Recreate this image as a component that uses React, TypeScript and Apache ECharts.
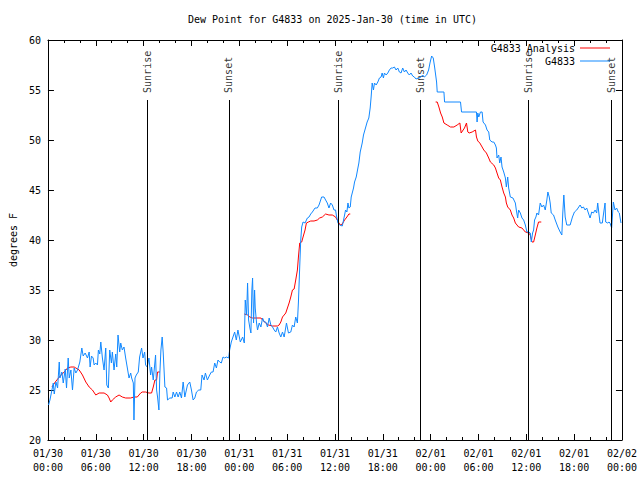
import React, { useEffect, useRef } from "react";
import * as echarts from "echarts";

const FONT = '"DejaVu Sans Mono", "Liberation Mono", monospace';

// Hours since 01/30 00:00 UTC
const obsHours = [
  0.08, 0.25, 0.5, 0.67, 0.79, 1.0, 1.21, 1.42, 1.5, 1.75, 1.92, 2.17, 2.33, 2.54, 2.67, 2.88, 3.08, 3.29, 3.5, 3.71,
  4.0, 4.25, 4.42, 4.67, 4.96, 5.17, 5.29, 5.46, 5.67, 5.79, 6.0, 6.21, 6.33, 6.5, 6.63, 6.83, 7.04, 7.25, 7.38, 7.58,
  7.75, 7.96, 8.08, 8.29, 8.5, 8.63, 8.79, 9.0, 9.13, 9.33, 9.54, 9.75, 9.96, 10.17, 10.38, 10.5, 10.71, 10.79, 10.92, 11.08,
  11.33, 11.5, 11.75, 11.92, 12.13, 12.25, 12.46, 12.67, 12.88, 13.0, 13.21, 13.5, 13.63, 13.75, 13.92, 14.04, 14.17, 14.33, 14.46, 14.67,
  14.88, 15.0, 15.29, 15.58, 15.71, 15.92, 16.13, 16.33, 16.54, 16.75, 16.96, 17.17, 17.5, 17.79, 18.0, 18.21, 18.42, 18.63, 18.92, 19.17,
  19.33, 19.58, 19.75, 20.0, 20.29, 20.5, 20.71, 20.92, 21.13, 21.33, 21.54, 21.75, 21.96, 22.17, 22.38, 22.67, 22.79, 23.0, 23.21, 23.42,
  23.63, 23.83, 24.13, 24.42, 24.63, 24.75, 24.92, 25.04, 25.17, 25.33, 25.46, 25.58, 25.67, 25.79, 25.92, 26.0, 26.17, 26.29, 26.5, 26.71,
  26.92, 27.13, 27.33, 27.54, 27.75, 27.96, 28.17, 28.38, 28.58, 28.79, 29.0, 29.21, 29.42, 29.63, 29.92, 30.17, 30.46, 30.67, 30.88, 31.08,
  31.29, 31.42, 31.58, 31.71, 31.83, 32.0, 32.25, 32.54, 32.75, 32.96, 33.17, 33.5, 33.79, 34.0, 34.21, 34.33, 34.63, 34.83, 35.04, 35.25,
  35.46, 35.67, 35.88, 36.08, 36.17, 36.38, 36.58, 36.92, 37.08, 37.21, 37.33, 37.5, 37.63, 37.75, 37.92, 38.04, 38.17, 38.33, 38.46, 38.67,
  38.88, 39.0, 39.17, 39.42, 39.58, 39.83, 40.04, 40.25, 40.42, 40.54, 40.67, 40.83, 40.96, 41.17, 41.38, 41.58, 41.79, 41.92, 42.08, 42.21,
  42.42, 42.63, 42.83, 43.04, 43.25, 43.46, 43.67, 43.88, 44.08, 44.29, 44.5, 44.71, 44.92, 45.13, 45.33, 45.54, 45.75, 45.96, 46.17, 46.5,
  46.79, 47.0, 47.21, 47.5, 47.75, 47.92, 48.13, 48.33, 48.5, 48.75, 48.83, 49.67, 49.75, 51.75, 51.88, 53.75, 53.83, 53.92, 54.04, 54.25,
  54.46, 54.58, 54.88, 55.08, 55.29, 55.42, 55.71, 55.92, 56.13, 56.25, 56.33, 56.54, 56.67, 56.83, 56.96, 57.17, 57.38, 57.5, 57.67, 57.79,
  58.0, 58.33, 58.63, 58.75, 58.92, 59.04, 59.25, 59.46, 59.67, 59.88, 60.08, 60.29, 60.5, 60.63, 60.79, 60.92, 61.04, 61.21, 61.33, 61.54,
  61.75, 61.96, 62.17, 62.38, 62.58, 62.71, 62.88, 63.0, 63.13, 63.42, 63.63, 63.96, 64.25, 64.46, 64.58, 64.71, 64.88, 65.08, 65.5, 65.79,
  66.04, 66.33, 66.75, 66.96, 67.17, 67.38, 67.58, 67.79, 68.0, 68.21, 68.42, 68.63, 68.83, 68.96, 69.13, 69.25, 69.54, 69.67, 69.88, 69.96,
  70.21, 70.38, 70.5, 70.71, 70.92, 71.13, 71.33, 71.54, 71.67, 71.88,
];

const obsDew = [
  23.5, 24.0, 25.0, 25.7, 24.6, 25.8, 25.2, 27.8, 26.2, 26.8, 25.7, 27.1, 25.2, 28.2, 26.2, 27.0, 25.0, 27.2, 26.7, 27.0,
  27.8, 29.2, 28.4, 28.7, 28.2, 28.8, 27.3, 28.4, 28.2, 27.5, 27.7, 27.5, 29.0, 28.6, 29.8, 28.2, 27.0, 29.2, 25.5, 25.2,
  29.0, 27.7, 28.8, 27.0, 28.6, 27.3, 30.5, 28.8, 29.7, 29.0, 29.3, 28.2, 27.2, 26.2, 26.7, 26.2, 25.7, 22.0, 26.2, 26.5,
  26.8, 28.3, 29.2, 28.2, 28.8, 27.5, 27.3, 28.2, 26.5, 27.3, 26.0, 28.5, 25.0, 24.3, 23.0, 26.7, 29.0, 30.3, 28.7, 25.3,
  25.2, 24.0, 24.2, 24.2, 24.8, 24.3, 24.8, 24.3, 24.8, 24.2, 25.8, 24.3, 25.5, 25.8, 25.0, 24.0, 24.2, 24.8, 25.0, 25.0,
  26.5, 26.0, 26.7, 26.0, 26.5, 26.8, 26.8, 27.7, 27.2, 28.0, 27.8, 27.7, 28.3, 28.2, 28.3, 28.2, 29.0, 29.8, 30.3, 30.8,
  30.0, 31.0, 29.8, 30.3, 29.7, 34.0, 32.5, 35.7, 32.0, 31.2, 30.7, 35.0, 36.2, 31.7, 35.0, 33.2, 31.7, 31.0, 31.7, 31.3,
  32.2, 31.8, 31.8, 31.3, 32.2, 31.5, 31.3, 31.0, 30.8, 31.3, 30.7, 30.3, 30.8, 30.3, 31.7, 30.7, 30.8, 31.5, 31.3, 32.3,
  31.7, 33.8, 37.3, 40.0, 41.3, 41.8, 41.7, 42.2, 42.3, 42.6, 42.8, 43.2, 43.2, 43.5, 44.0, 44.3, 44.3, 44.0, 43.7, 43.2,
  43.7, 43.5, 43.0, 43.0, 42.5, 41.7, 41.5, 41.4, 42.0, 42.5, 43.0, 42.8, 43.7, 43.2, 43.3, 44.3, 44.7, 45.2, 45.8, 46.3,
  47.2, 47.7, 48.8, 49.7, 50.5, 51.2, 51.8, 52.2, 53.2, 54.3, 55.7, 55.0, 55.7, 55.5, 55.8, 56.2, 56.3, 56.7, 56.2, 56.7,
  56.5, 56.7, 57.0, 57.2, 57.2, 57.3, 57.0, 57.2, 56.8, 56.7, 57.2, 56.8, 57.0, 56.7, 56.5, 56.7, 56.4, 56.3, 56.1, 56.2,
  56.3, 56.5, 56.3, 56.5, 57.0, 57.7, 58.4, 58.2, 57.3, 55.8, 54.8, 54.8, 53.8, 53.8, 52.8, 52.8, 51.8, 52.7, 52.3, 52.8,
  52.8, 51.8, 51.5, 51.0, 50.8, 50.0, 49.8, 49.8, 49.5, 49.2, 48.2, 48.5, 47.7, 48.3, 47.3, 46.8, 46.2, 45.3, 46.3, 45.2,
  44.3, 44.2, 43.7, 43.0, 42.2, 43.0, 42.7, 42.2, 42.0, 41.5, 40.8, 40.8, 40.7, 39.8, 40.7, 41.0, 42.0, 42.3, 42.7, 42.5,
  43.7, 43.3, 43.5, 43.0, 44.0, 44.8, 44.3, 43.7, 42.7, 42.5, 42.0, 41.3, 40.8, 40.5, 42.7, 44.5, 42.3, 41.5, 41.5, 42.3,
  42.8, 43.0, 43.5, 43.2, 43.3, 43.0, 43.2, 42.7, 42.2, 42.8, 42.7, 43.0, 42.7, 43.7, 42.5, 41.7, 41.7, 42.5, 43.7, 41.8,
  41.7, 41.8, 41.7, 41.2, 43.8, 43.0, 43.2, 42.8, 42.7, 41.7,
];

// Analysis (null = no analysis available)
const anaHours = [
  0.5, 0.92, 1.42, 2.04, 2.46, 2.88, 3.29, 3.5, 3.92, 4.33, 4.75, 5.17, 5.58, 6.0, 6.42, 7.04, 7.46, 7.67, 7.88, 8.08,
  8.5, 8.92, 9.33, 9.75, 10.38, 10.79, 11.21, 11.63, 11.83, 12.25, 12.67, 13.0, 13.21, 13.42, 13.63, 13.75, 14.04, 14.5,
  24.63, 25.04, 25.33, 25.67, 26.08, 26.71, 26.92, 27.33, 27.67, 28.17, 28.79, 29.0, 29.21, 29.42, 29.63, 29.83, 30.04, 30.25, 30.46, 30.67,
  30.88, 31.08, 31.29, 31.42, 31.58, 31.83, 32.0, 32.25, 32.42, 32.67, 32.96, 33.38, 33.79, 34.08, 34.42, 34.83, 35.25, 35.67, 35.88, 36.08,
  36.29, 36.5, 36.67, 36.92, 37.21, 37.5, 37.75, 37.92, 40.0,
  48.63, 48.83, 49.04, 49.25, 49.46, 49.67, 50.08, 50.5, 50.92, 51.33, 51.67, 51.83, 52.08, 52.25, 52.5, 52.67, 52.83, 53.21, 53.63, 53.75,
  53.92, 54.17, 54.46, 54.67, 55.0, 55.29, 55.5, 55.92, 56.13, 56.33, 56.54, 56.75, 56.96, 57.17, 57.38, 57.5, 57.67, 58.0, 58.21, 58.42,
  58.63, 59.04, 59.46, 59.88, 60.29, 60.5, 60.71, 60.92, 61.13, 61.33, 61.54, 61.88,
];

const anaDew = [
  25.3, 25.8, 26.3, 26.8, 27.2, 27.3, 27.3, 27.2, 27.0, 26.5, 25.8, 25.3, 25.0, 24.5, 24.7, 24.7, 24.5, 24.2, 23.8, 24.0,
  24.3, 24.5, 24.3, 24.2, 24.2, 24.3, 24.3, 24.7, 24.8, 24.8, 24.7, 24.7, 25.3, 26.0, 26.0, 26.8, 26.8, null,
  32.6, 32.5, 32.3, 32.2, 32.2, 32.2, 32.0, 31.7, 31.5, 31.4, 31.4, 31.5, 31.8, 32.3, 32.5, 32.7, 33.2, 33.7, 34.3, 35.0,
  35.1, 36.0, 37.0, 38.3, 39.7, 39.8, 40.3, 41.0, 41.7, 41.8, 41.9, 41.9, 42.0, 42.2, 42.3, 42.6, 42.5, 42.5, 42.4, 42.3,
  42.0, 41.7, 41.5, 41.6, 42.0, 42.3, 42.6, 42.6, null,
  53.8, 53.8, 53.3, 52.7, 52.3, 51.7, 51.5, 51.3, 51.3, 51.5, 51.7, 50.7, 51.0, 51.2, 51.7, 50.8, 50.7, 50.8, 51.0, 50.3,
  49.9, 49.7, 49.3, 49.0, 48.7, 48.2, 47.8, 47.5, 47.2, 46.7, 46.2, 46.0, 45.3, 44.7, 44.3, 43.7, 43.3, 43.0, 42.5, 42.2,
  41.7, 41.3, 41.2, 40.8, 40.7, 40.5, 39.8, 39.8, 40.5, 41.2, 41.8, 41.8,
];

const sunHours = [12.44, 22.69, 36.46, 46.69, 60.3, 70.69];
const sunNames = ["Sunrise", "Sunset", "Sunrise", "Sunset", "Sunrise", "Sunset"];
const sunLineTop = 54;

const tickDates = ["01/30", "01/30", "01/30", "01/30", "01/31", "01/31", "01/31", "01/31", "02/01", "02/01", "02/01", "02/01", "02/02"];
const tickTimes = ["00:00", "06:00", "12:00", "18:00", "00:00", "06:00", "12:00", "18:00", "00:00", "06:00", "12:00", "18:00", "00:00"];

const TITLE = "Dew Point for G4833 on 2025-Jan-30 (time in UTC)";
const BLUE = "#1188ff";
const RED = "#ff0000";

export default function App() {
  const ref = useRef<HTMLDivElement>(null);

  useEffect(() => {
    document.body.style.margin = "0";
    const chart = echarts.init(ref.current as HTMLDivElement, null, { renderer: "svg" });

    const obsData = obsHours.map((h, i) => [h, obsDew[i]]);
    const anaData = anaHours.map((h, i) => [h, anaDew[i] === null ? "-" : anaDew[i]]);
    const sunData = sunHours.map((h, i) => ({ name: sunNames[i], value: [h, sunLineTop] }));

    const txt = { fontFamily: FONT, fontSize: 10, color: "#000" };
    const line = { lineStyle: { color: "#000", width: 1 } };

    const xCommon = {
      type: "value",
      min: 0,
      max: 72,
      interval: 6,
      axisLine: { show: true, onZero: false, ...line },
      axisTick: { show: true, inside: true, length: 6, ...line },
      minorTick: { show: true, splitNumber: 3, length: 3, ...line },
      splitLine: { show: false },
      minorSplitLine: { show: false },
    };
    const yCommon = {
      type: "value",
      min: 20,
      max: 60,
      interval: 5,
      axisLine: { show: true, onZero: false, ...line },
      axisTick: { show: true, inside: true, length: 6, ...line },
      splitLine: { show: false },
    };

    const legendCommon = {
      orient: "horizontal",
      align: "right",
      right: 30,
      padding: 0,
      icon: "rect",
      itemWidth: 30,
      itemHeight: 1,
      selectedMode: false,
      textStyle: { ...txt },
    };

    chart.setOption({
      animation: false,
      backgroundColor: "#fff",
      textStyle: { fontFamily: FONT },
      title: {
        text: TITLE,
        left: 188,
        top: 14,
        padding: 0,
        textStyle: { ...txt, fontWeight: "normal" },
      },
      legend: [
        { ...legendCommon, top: 43, data: ["G4833 Analysis"] },
        { ...legendCommon, top: 56, data: ["G4833"] },
      ],
      grid: { left: 46, right: 18, top: 40, bottom: 40, containLabel: false },
      xAxis: [
        {
          ...xCommon,
          position: "bottom",
          axisLabel: {
            ...txt,
            margin: 6,
            lineHeight: 14,
            formatter: (v: number) => {
              const i = Math.round(v / 6);
              return tickDates[i] + "\n" + tickTimes[i];
            },
          },
        },
        { ...xCommon, position: "top", axisLabel: { show: false } },
      ],
      yAxis: [
        {
          ...yCommon,
          position: "left",
          name: "degrees F",
          nameLocation: "middle",
          nameGap: 28,
          nameTextStyle: { ...txt },
          axisLabel: { ...txt, margin: 7 },
        },
        { ...yCommon, position: "right", axisLabel: { show: false } },
      ],
      series: [
        {
          name: "G4833 Analysis",
          type: "line",
          data: anaData,
          symbol: "none",
          showSymbol: false,
          connectNulls: false,
          lineStyle: { color: RED, width: 1 },
          itemStyle: { color: RED },
        },
        {
          name: "G4833",
          type: "line",
          data: obsData,
          symbol: "none",
          showSymbol: false,
          lineStyle: { color: BLUE, width: 1 },
          itemStyle: { color: BLUE },
        },
        {
          name: "sun",
          type: "scatter",
          data: sunData,
          symbol: "circle",
          symbolSize: 0.1,
          itemStyle: { color: "rgba(0,0,0,0)" },
          silent: true,
          label: {
            show: true,
            formatter: "{b}",
            position: "top",
            distance: 7,
            rotate: 90,
            align: "left",
            verticalAlign: "middle",
            ...txt,
          },
          markLine: {
            silent: true,
            symbol: ["none", "none"],
            label: { show: false },
            lineStyle: { color: "#000", width: 1, type: "solid" },
            data: sunHours.map((h) => [{ coord: [h, 20] }, { coord: [h, sunLineTop] }]),
          },
        },
      ],
    });

    return () => chart.dispose();
  }, []);

  return <div ref={ref} style={{ width: 640, height: 480 }} />;
}
